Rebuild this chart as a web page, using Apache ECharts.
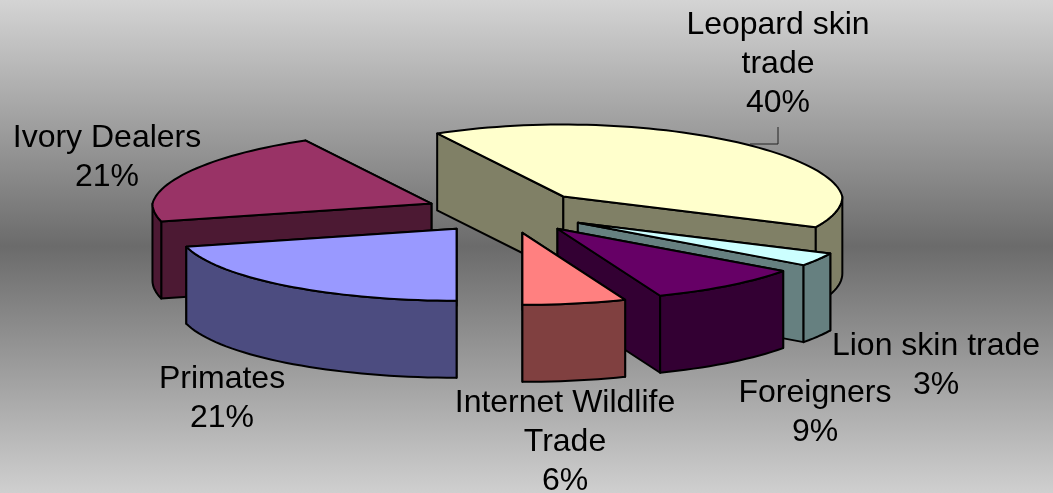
<!DOCTYPE html>
<html><head><meta charset="utf-8">
<style>html,body{margin:0;padding:0;background:#fff}#c{width:1053px;height:493px}</style>
<script src="https://cdn.jsdelivr.net/npm/echarts@6/dist/echarts.min.js"></script>
</head><body><div id="c"></div>
<script>
// data
const categories = ['Leopard skin\ntrade','Lion skin trade','Foreigners','Internet Wildlife\nTrade','Primates','Ivory Dealers'];
const shares = [40,3,9,6,21,21];
const topColors = ['#FFFFCC','#CCFFFF','#660066','#FF8080','#9999FF','#993366'];
const wallColors = ['#808066','#668080','#330033','#804040','#4C4C80','#4C1933'];
// layout
const firstAngle = -28.8, cx = 507, cy = 212, rx = 279, ry = 72, depth = 77, explode = 0.295, backNarrow = 0.07;
const labelPos = [[778,64],[936,366],[815,413],[565,442],[222,399],[107,158]];
const paintOrder = [5,0,1,2,3,4];
const total = shares.reduce((a,b)=>a+b,0);
const rad = d => d*Math.PI/180;
const starts = []; let acc = firstAngle;
shares.forEach(v=>{starts.push(acc); acc += v/total*360;});
function pt(c,a,dy){const co=Math.cos(rad(a));return [c[0]+rx*Math.sin(rad(a))*(1-backNarrow*Math.max(0,co)), c[1]-ry*co+(dy||0)];}
function arc(c,a0,a1,dy){const n=Math.max(2,Math.ceil(Math.abs(a1-a0)/2)),o=[];for(let i=0;i<=n;i++)o.push(pt(c,a0+(a1-a0)*i/n,dy));return o;}
const ls={stroke:'#000',lineWidth:2,lineJoin:'round'};
function poly(points,fill){return {type:'polygon',shape:{points},style:Object.assign({fill},ls)};}
function renderItem(params,api){
  const i=api.value(0), a0=starts[i], a1=a0+api.value(1)/total*360, mid=(a0+a1)/2;
  const c=[cx+explode*rx*Math.sin(rad(mid)), cy-explode*ry*Math.cos(rad(mid))];
  const ch=[];
  const radial=[a0,a1].sort((p,q)=>pt(c,p)[1]-pt(c,q)[1]);
  radial.forEach(a=>{const p=pt(c,a);ch.push(poly([c,p,[p[0],p[1]+depth],[c[0],c[1]+depth]],wallColors[i]));});
  const r0=Math.max(a0,90), r1=Math.min(a1,270);
  if(r1>r0){ch.push(poly(arc(c,r0,r1,0).concat(arc(c,r1,r0,depth)),wallColors[i]));}
  ch.push(poly([c].concat(arc(c,a0,a1,0)),topColors[i]));
  return {type:'group',children:ch};
}
const chart=echarts.init(document.getElementById('c'),null,{renderer:'canvas'});
const seriesData=paintOrder.map(i=>[i,shares[i]]);
const labelGraphics=categories.map((n,i)=>({type:'text',silent:true,x:labelPos[i][0],y:labelPos[i][1],z:20,
  style:{text:n+'\n'+shares[i]+'%',fill:'#000',font:'32px "Liberation Sans", Arial, sans-serif',align:'center',verticalAlign:'middle',lineHeight:39}}));
chart.setOption({
  animation:false,
  backgroundColor:{type:'linear',x:0,y:0,x2:0,y2:1,colorStops:[{offset:0,color:'#d4d4d4'},{offset:0.5,color:'#6b6b6b'},{offset:1,color:'#cfcfcf'}]},
  series:[{type:'custom',coordinateSystem:'none',renderItem,data:seriesData,encode:{value:[0,1]},silent:true}],
  graphic:labelGraphics.concat([{type:'polyline',silent:true,z:19,shape:{points:[[778,127],[778,144],[750,144]]},style:{stroke:'#222',lineWidth:1,fill:null}}])
});
</script></body></html>
